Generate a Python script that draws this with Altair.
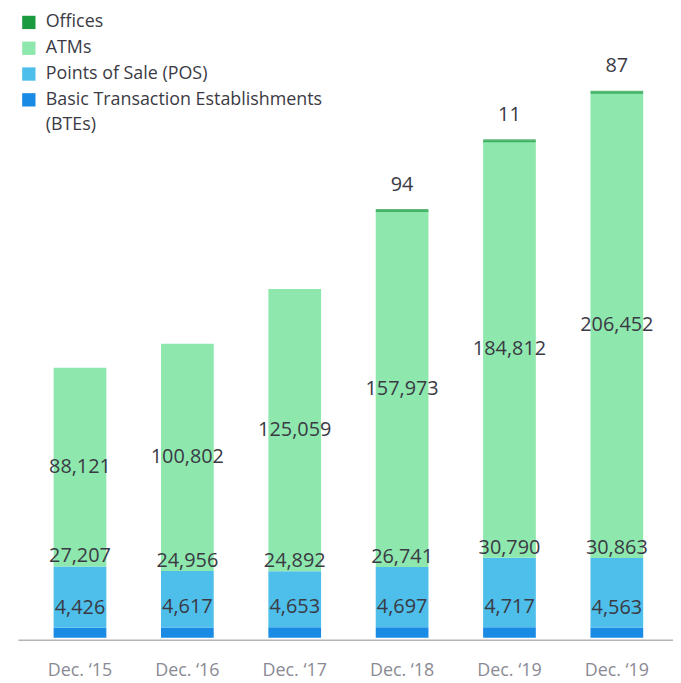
import json
import altair as alt
import pandas as pd

categories = ["Dec. ‘15", "Dec. ‘16", "Dec. ‘17", "Dec. ‘18", "Dec. ‘19", "Dec. ‘19"]
btes = [4426, 4617, 4653, 4697, 4717, 4563]
pos = [27207, 24956, 24892, 26741, 30790, 30863]
atms = [88121, 100802, 125059, 157973, 184812, 206452]
offices = [None, None, None, 94, 11, 87]

series_names = ["Offices", "ATMs", "Points of Sale (POS)",
                "Basic Transaction Establishments (BTEs)"]
series_colors = ["#1b9b40", "#8ee8ae", "#4dbfea", "#1a8be5"]

FONT = "Open Sans"
LABEL_COLOR = "#3a3a44"

rows = []
office_rows = []
for i, cat in enumerate(categories):
    start = 0
    for name, vals in [(series_names[3], btes), (series_names[2], pos), (series_names[1], atms)]:
        v = vals[i]
        rows.append(dict(idx=i, series=name, value=v, start=start, end=start + v,
                         mid=start + v / 2, label=f"{v:,}"))
        start += v
    if offices[i] is not None:
        office_rows.append(dict(idx=i, series=series_names[0], value=offices[i], start=start,
                                end=start + offices[i], label=f"{offices[i]:,}"))

df = pd.DataFrame(rows)
dfo = pd.DataFrame(office_rows)

label_expr = json.dumps(categories, ensure_ascii=False) + "[datum.value]"

x = alt.X("idx:O",
          scale=alt.Scale(paddingInner=0.509, paddingOuter=0.305, align=0.545),
          axis=alt.Axis(title=None, labelAngle=0, ticks=False, labelExpr=label_expr,
                        labelFont=FONT, labelFontSize=18, labelColor="#8a8a94",
                        domainColor="#b4b4b8", domainWidth=1.5, offset=2,
                        labelPadding=22))
yscale = alt.Scale(domain=[0, 276760], nice=False, zero=True)

legend_label_expr = ("datum.label == 'Basic Transaction Establishments (BTEs)' ? "
                     "['Basic Transaction Establishments', '(BTEs)'] : datum.label")

bars = alt.Chart(df).mark_bar().encode(
    x=x,
    y=alt.Y("start:Q", scale=yscale, axis=None),
    y2="end:Q",
    color=alt.Color("series:N",
                    scale=alt.Scale(domain=series_names, range=series_colors),
                    legend=alt.Legend(title=None, orient="none", legendX=2, legendY=0,
                                      symbolType="square", symbolSize=180,
                                      symbolStrokeWidth=0, labelFont=FONT,
                                      labelFontSize=18, labelColor=LABEL_COLOR,
                                      labelOffset=8, rowPadding=8, padding=0,
                                      labelLimit=400, labelExpr=legend_label_expr)),
)

office_ticks = alt.Chart(dfo).mark_tick(thickness=3, size=53, color=series_colors[0]).encode(
    x=x,
    y=alt.Y("start:Q", scale=yscale),
)

def seg_text(name, field, dy):
    return alt.Chart(df).transform_filter(alt.datum.series == name).mark_text(
        font=FONT, fontSize=20, color=LABEL_COLOR, baseline="middle", dy=dy
    ).encode(x=x, y=alt.Y(f"{field}:Q", scale=yscale), text="label:N")

t_bte = seg_text(series_names[3], "end", -20)
t_pos = seg_text(series_names[2], "end", -10)
t_atm = seg_text(series_names[1], "mid", 0)

t_off = alt.Chart(dfo).mark_text(
    font=FONT, fontSize=20, color=LABEL_COLOR, baseline="middle", dy=-26
).encode(x=x, y=alt.Y("start:Q", scale=yscale), text="label:N")

chart = alt.layer(bars, office_ticks, t_bte, t_pos, t_atm, t_off).properties(
    width=660, height=629,
    padding={"left": 10, "top": 3, "right": 0, "bottom": 0},
).configure(
    view={"stroke": None},
    style={"guide-label": {"lineHeight": 25}},
)

chart.save("out.html", embed_options={"renderer": "svg", "actions": False})
